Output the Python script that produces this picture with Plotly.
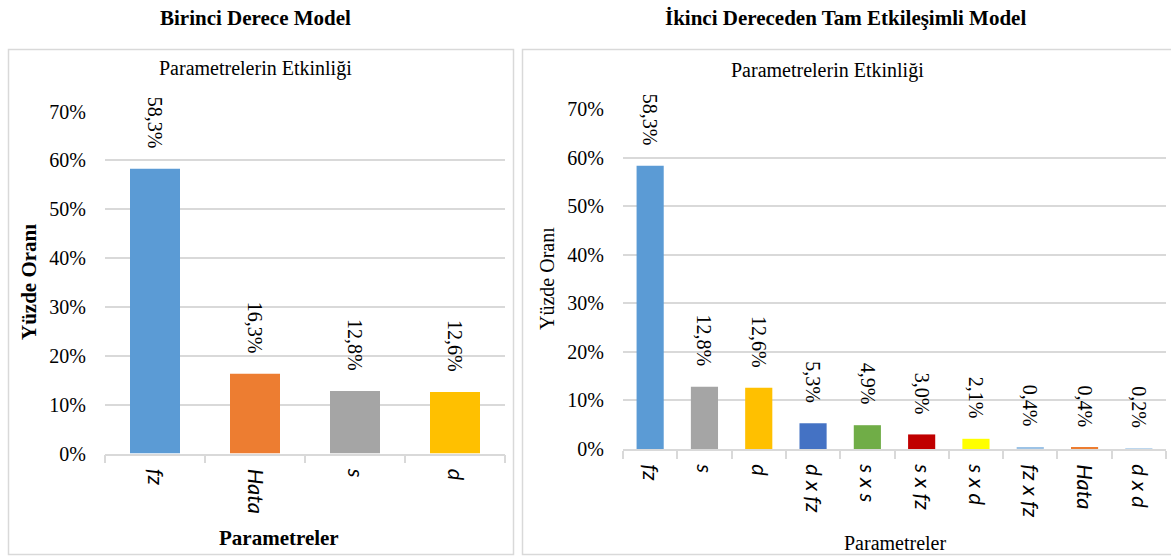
import plotly.graph_objects as go

W, H = 1171, 556

# ---- data ----
left_categories = ["fz", "Hata", "s", "d"]
left_values = [58.3, 16.3, 12.8, 12.6]
left_colors = ["#5B9BD5", "#ED7D31", "#A5A5A5", "#FFC000"]

right_categories = ["fz", "s", "d", "d x fz", "s x s", "s x fz", "s x d", "fz x fz", "Hata", "d x d"]
right_values = [58.3, 12.8, 12.6, 5.3, 4.9, 3.0, 2.1, 0.4, 0.4, 0.2]
right_colors = ["#5B9BD5", "#A5A5A5", "#FFC000", "#4472C4", "#70AD47", "#C00000",
                "#FFFF00", "#9DC3E6", "#ED7D31", "#BDD7EE"]

y_tickvals = [0, 10, 20, 30, 40, 50, 60, 70]
y_ticktext = ["0%", "10%", "20%", "30%", "40%", "50%", "60%", "70%"]

left_title = "Birinci Derece Model"
right_title = "İkinci Dereceden Tam Etkileşimli Model"
chart_title = "Parametrelerin Etkinliği"
y_title = "Yüzde Oranı"
x_title = "Parametreler"

SERIF = "Liberation Serif"
SANS = "Lato"
GRID = "#d9d9d9"


def px(x):
    return x / W


def py(y):
    return (H - y) / H


def fmt(v):
    return f"{v:.1f}%".replace(".", ",")


fig = go.Figure()

fig.add_trace(go.Bar(x=left_categories, y=left_values, marker_color=left_colors,
                     marker_line_width=0, xaxis="x", yaxis="y", showlegend=False))
fig.add_trace(go.Bar(x=right_categories, y=right_values, marker_color=right_colors,
                     marker_line_width=0, xaxis="x2", yaxis="y2", showlegend=False))

annotations = []
for cats, vals, xr, yr in [(left_categories, left_values, "x", "y"),
                           (right_categories, right_values, "x2", "y2")]:
    for c, v in zip(cats, vals):
        annotations.append(dict(x=c, y=v, xref=xr, yref=yr, text=fmt(v), textangle=90,
                                showarrow=False, yanchor="bottom", xanchor="center", yshift=18,
                                font=dict(family=SERIF, size=20, color="#000")))

# top titles
annotations.append(dict(x=px(255), y=py(18), xref="paper", yref="paper", text=f"<b>{left_title}</b>",
                        showarrow=False, xanchor="center", yanchor="middle",
                        font=dict(family=SERIF, size=21, color="#000")))
annotations.append(dict(x=px(845), y=py(18), xref="paper", yref="paper", text=f"<b>{right_title}</b>",
                        showarrow=False, xanchor="center", yanchor="middle",
                        font=dict(family=SERIF, size=21, color="#000")))
# chart titles
annotations.append(dict(x=px(255), y=py(68), xref="paper", yref="paper", text=chart_title,
                        showarrow=False, xanchor="center", yanchor="middle",
                        font=dict(family=SERIF, size=20, color="#000")))
annotations.append(dict(x=px(827), y=py(71), xref="paper", yref="paper", text=chart_title,
                        showarrow=False, xanchor="center", yanchor="middle",
                        font=dict(family=SERIF, size=20, color="#000")))
# axis titles
annotations.append(dict(x=px(29), y=py(282), xref="paper", yref="paper", text=f"<b>{y_title}</b>",
                        textangle=-90, showarrow=False, xanchor="center", yanchor="middle",
                        font=dict(family=SERIF, size=21, color="#000")))
annotations.append(dict(x=px(547), y=py(279), xref="paper", yref="paper", text=y_title,
                        textangle=-90, showarrow=False, xanchor="center", yanchor="middle",
                        font=dict(family=SERIF, size=20, color="#000")))
annotations.append(dict(x=px(279), y=py(538), xref="paper", yref="paper", text=f"<b>{x_title}</b>",
                        showarrow=False, xanchor="center", yanchor="middle",
                        font=dict(family=SERIF, size=21, color="#000")))
annotations.append(dict(x=px(895), y=py(543), xref="paper", yref="paper", text=x_title,
                        showarrow=False, xanchor="center", yanchor="middle",
                        font=dict(family=SERIF, size=20, color="#000")))

shapes = [
    dict(type="rect", xref="paper", yref="paper", x0=px(8.5), x1=px(513.5), y0=py(554.5), y1=py(49.5),
         line=dict(color=GRID, width=1.5), fillcolor="rgba(0,0,0,0)", layer="below"),
    dict(type="rect", xref="paper", yref="paper", x0=px(522.5), x1=px(1174), y0=py(554.5), y1=py(49.5),
         line=dict(color=GRID, width=1.5), fillcolor="rgba(0,0,0,0)", layer="below"),
]

xaxis_common = dict(type="category", showline=True, linecolor=GRID, linewidth=1.5,
                    ticks="outside", ticklen=8, tickcolor=GRID, tickwidth=1.5,
                    tickson="boundaries", tickangle=90, showgrid=False, zeroline=False,
                    ticklabelstandoff=9, automargin=False,
                    tickfont=dict(family=SANS, size=22, color="#000", style="italic"),
                    fixedrange=True)
yaxis_common = dict(range=[0, 70], tickmode="array", tickvals=y_tickvals, ticktext=y_ticktext,
                    showgrid=True, gridcolor=GRID, gridwidth=1.5, zeroline=False, showline=False,
                    ticks="", ticklabelstandoff=18, automargin=False,
                    tickfont=dict(family=SERIF, size=20, color="#000"), fixedrange=True)

fig.update_layout(
    width=W, height=H,
    margin=dict(l=0, r=0, t=0, b=0, pad=0, autoexpand=False),
    paper_bgcolor="white", plot_bgcolor="white",
    bargap=0.5,
    xaxis=dict(domain=[px(105), px(505)], anchor="y", **xaxis_common),
    yaxis=dict(domain=[py(453.5), py(111.5)], anchor="x", **yaxis_common),
    xaxis2=dict(domain=[px(623), px(1166)], anchor="y2", **xaxis_common),
    yaxis2=dict(domain=[py(449), py(109)], anchor="x2", **yaxis_common),
    annotations=annotations,
    shapes=shapes,
)

fig.write_html("out.html", config={"displayModeBar": False})
